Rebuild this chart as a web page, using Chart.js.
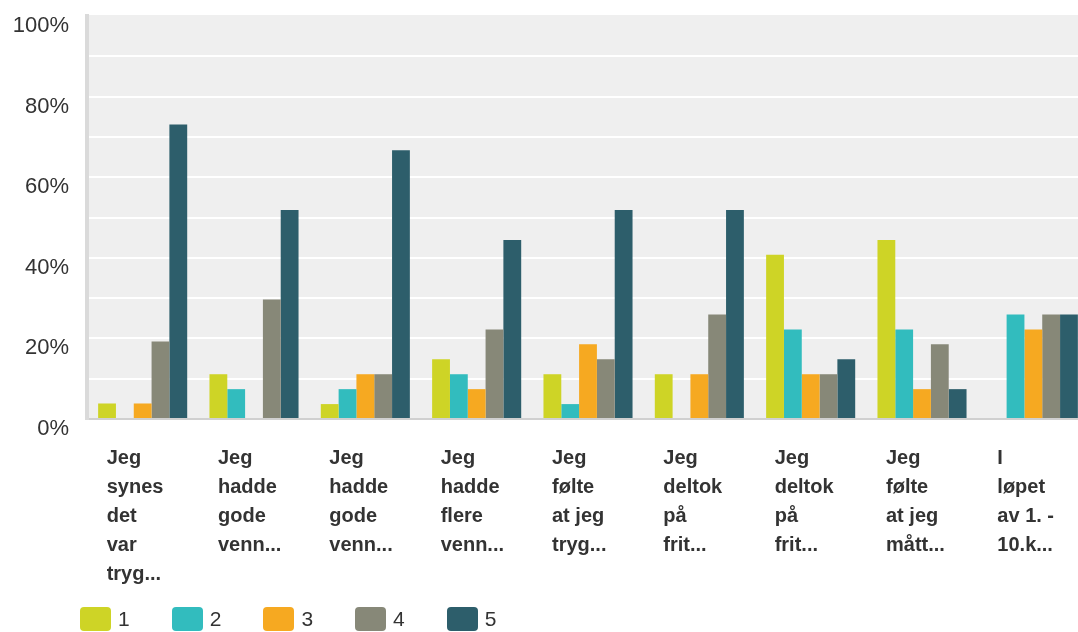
<!DOCTYPE html>
<html>
<head>
<meta charset="utf-8">
<script src="https://cdn.jsdelivr.net/npm/chart.js@4.4.1/dist/chart.umd.min.js"></script>
<style>
  html, body { margin: 0; padding: 0; background: #fff; overflow: hidden; }
  .wrap { position: relative; width: 1078px; height: 632px; overflow: hidden; }
  #myChart { position: absolute; left: 0; top: 0; }
  #legend-container { position: absolute; left: 80px; top: 607px; }
</style>
</head>
<body>
<div class="wrap">
  <canvas id="myChart" width="1090" height="614"></canvas>
  <div id="legend-container"></div>
</div>
<script>
const categories = [
  ['Jeg', 'synes', 'det', 'var', 'tryg...'],
  ['Jeg', 'hadde', 'gode', 'venn...'],
  ['Jeg', 'hadde', 'gode', 'venn...'],
  ['Jeg', 'hadde', 'flere', 'venn...'],
  ['Jeg', 'følte', 'at jeg', 'tryg...'],
  ['Jeg', 'deltok', 'på', 'frit...'],
  ['Jeg', 'deltok', 'på', 'frit...'],
  ['Jeg', 'følte', 'at jeg', 'mått...'],
  ['I', 'løpet', 'av 1. -', '10.k...']
];

const series1 = [3.85, 11.11, 3.7, 14.81, 11.11, 11.11, 40.74, 44.44, 0];
const series2 = [0, 7.41, 7.41, 11.11, 3.7, 0, 22.22, 22.22, 25.93];
const series3 = [3.85, 0, 11.11, 7.41, 18.52, 11.11, 11.11, 7.41, 22.22];
const series4 = [19.23, 29.63, 11.11, 22.22, 14.81, 25.93, 11.11, 18.52, 25.93];
const series5 = [73.08, 51.85, 66.67, 44.44, 51.85, 51.85, 14.81, 7.41, 25.93];

const seriesNames = ['1', '2', '3', '4', '5'];
const yTicks = [0, 20, 40, 60, 80, 100];

const colors = ['#ced426', '#32bcbe', '#f6a921', '#878878', '#2d5e6b'];

const ctx = document.querySelector('#myChart').getContext('2d');

// grey plot background
const plotBackground = {
  id: 'plotBackground',
  beforeDraw(chart) {
    const a = chart.chartArea;
    const c = chart.ctx;
    c.save();
    c.fillStyle = '#efefef';
    c.fillRect(a.left, a.top - 1, a.right - a.left, a.bottom - a.top + 1);
    c.restore();
  }
};

const htmlLegendPlugin = {
  id: 'htmlLegend',
  afterUpdate(chart, args, options) {
    const box = document.getElementById(options.containerID);
    let ul = box.querySelector('ul');
    if (!ul) {
      ul = document.createElement('ul');
      ul.style.display = 'flex';
      ul.style.flexDirection = 'row';
      ul.style.margin = 0;
      ul.style.padding = 0;
      ul.style.listStyle = 'none';
      box.appendChild(ul);
    }
    while (ul.firstChild) {
      ul.firstChild.remove();
    }

    chart.data.datasets.forEach(ds => {
      const li = document.createElement('li');
      li.style.display = 'flex';
      li.style.alignItems = 'center';
      li.style.width = '91.7px';

      const boxSpan = document.createElement('span');
      boxSpan.style.background = ds.backgroundColor;
      boxSpan.style.display = 'inline-block';
      boxSpan.style.width = '31px';
      boxSpan.style.height = '24px';
      boxSpan.style.borderRadius = '4px';
      boxSpan.style.marginRight = '7px';

      const text = document.createElement('span');
      text.style.font = '21px "Liberation Sans", Arial, sans-serif';
      text.style.color = '#333';
      text.textContent = ds.label;

      li.appendChild(boxSpan);
      li.appendChild(text);
      ul.appendChild(li);
    });
  }
};

new Chart(ctx, {
  type: 'bar',
  data: {
    labels: categories,
    datasets: [series1, series2, series3, series4, series5].map((d, i) => ({
      label: seriesNames[i],
      data: d,
      backgroundColor: colors[i],
      borderWidth: 0,
      barPercentage: 1,
      categoryPercentage: 0.8
    }))
  },
  options: {
    responsive: false,
    animation: false,
    layout: { padding: { top: 16, right: 1, left: 0, bottom: 0 } },
    plugins: {
      legend: { display: false },
      tooltip: { enabled: false },
      htmlLegend: { containerID: 'legend-container' }
    },
    scales: {
      x: {
        afterFit(scale) {
          scale.paddingLeft = 0;
          scale.paddingRight = 0;
        },
        grid: { display: false, drawTicks: false },
        border: { color: '#d0d0d0', width: 2 },
        ticks: {
          color: '#333',
          font: { family: '"Liberation Sans", Arial, sans-serif', size: 20, weight: 'bold', lineHeight: '29px' },
          padding: 25,
          align: 'start',
          labelOffset: -36,
          maxRotation: 0,
          autoSkip: false
        }
      },
      y: {
        min: 0,
        max: 100,
        afterFit(scale) {
          scale.width = 87;
          scale.paddingTop = 0;
          scale.paddingBottom = 0;
        },
        grid: {
          drawTicks: false,
          lineWidth: 2,
          color: c => (c.tick && c.tick.value === 100) ? 'rgba(0,0,0,0)' : '#ffffff'
        },
        border: { color: '#dadada', width: 4 },
        ticks: {
          stepSize: 10,
          padding: 18,
          labelOffset: 10,
          color: '#333',
          font: { family: '"Liberation Sans", Arial, sans-serif', size: 22 },
          callback: v => yTicks.includes(v) ? v + '%' : ''
        }
      }
    }
  },
  plugins: [plotBackground, htmlLegendPlugin]
});
</script>
</body>
</html>
